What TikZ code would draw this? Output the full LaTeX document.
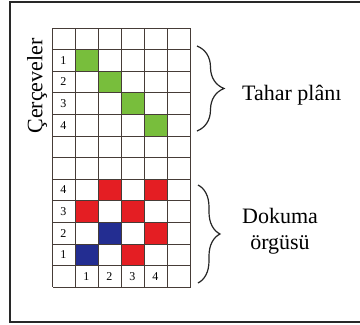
\documentclass[tikz,border=0pt]{standalone}
\usepackage{fontspec}
\setmainfont{Liberation Serif}
\usetikzlibrary{decorations.pathreplacing}
\definecolor{gridc}{RGB}{70,60,55}
\definecolor{greenc}{RGB}{120,190,60}
\definecolor{redc}{RGB}{228,30,35}
\definecolor{bluec}{RGB}{35,45,145}
\definecolor{framec}{RGB}{40,40,40}
\begin{document}
\begin{tikzpicture}[x=1pt,y=-1pt,
  cellg/.style={fill=greenc},
  cellr/.style={fill=redc},
  cellb/.style={fill=bluec},
  num/.style={font=\fontsize{12}{13}\selectfont, inner sep=0pt},
  lbl/.style={font=\fontsize{22}{26}\selectfont, inner sep=0pt},
  bracestyle/.style={draw=black!85, line width=1.2pt, decorate}]
\useasboundingbox (0,0) rectangle (360,325);
\fill[white] (0,0) rectangle (360,325);
% frame
\draw[framec, line width=1.5pt] (361,2) -- (10,2) -- (10,322) -- (361,322);
% grid geometry: x0=53, w=23; y0=28, h=21.6
\def\gx{53}\def\gw{23}\def\gy{28}\def\gh{21.6}
% coloured cells (col, row)
\foreach \c/\r/\s in {1/1/cellg,2/2/cellg,3/3/cellg,4/4/cellg,
  2/7/cellr,4/7/cellr,1/8/cellr,3/8/cellr,2/9/cellb,4/9/cellr,1/10/cellb,3/10/cellr}{
  \path[\s] ({\gx+\c*\gw},{\gy+\r*\gh}) rectangle ({\gx+(\c+1)*\gw},{\gy+(\r+1)*\gh});
}
% grid lines
\foreach \i in {0,...,6}{
  \draw[gridc, line width=1pt] ({\gx+\i*\gw},\gy) -- ({\gx+\i*\gw},{\gy+12*\gh});
}
\foreach \j in {0,...,12}{
  \draw[gridc, line width=1pt] (\gx,{\gy+\j*\gh}) -- ({\gx+6*\gw},{\gy+\j*\gh});
}
% row numbers
\node[num] (t1) at ({\gx+0.45*\gw},{\gy+1.5*\gh}) {1};
\node[num] (t2) at ({\gx+0.45*\gw},{\gy+2.5*\gh}) {2};
\node[num] (t3) at ({\gx+0.45*\gw},{\gy+3.5*\gh}) {3};
\node[num] (t4) at ({\gx+0.45*\gw},{\gy+4.5*\gh}) {4};
\node[num] (d4) at ({\gx+0.45*\gw},{\gy+7.5*\gh}) {4};
\node[num] (d3) at ({\gx+0.45*\gw},{\gy+8.5*\gh}) {3};
\node[num] (d2) at ({\gx+0.45*\gw},{\gy+9.5*\gh}) {2};
\node[num] (d1) at ({\gx+0.45*\gw},{\gy+10.5*\gh}) {1};
% column numbers
\node[num] (c1) at ({\gx+1.45*\gw},{\gy+11.5*\gh}) {1};
\node[num] (c2) at ({\gx+2.45*\gw},{\gy+11.5*\gh}) {2};
\node[num] (c3) at ({\gx+3.45*\gw},{\gy+11.5*\gh}) {3};
\node[num] (c4) at ({\gx+4.45*\gw},{\gy+11.5*\gh}) {4};
% side label
\node[lbl, rotate=90] (cer) at (37,86) {Çerçeveler};
% braces
\coordinate (b1a) at (197,46);
\coordinate (b1b) at (197,131);
\coordinate (b2a) at (198,185);
\coordinate (b2b) at (198,283);
\draw[bracestyle, decoration={brace, amplitude=27pt}] (b1a) -- (b1b);
\draw[bracestyle, decoration={brace, amplitude=22pt}] (b2a) -- (b2b);
\node[lbl, anchor=west] (tahar) at (242,95) {Tahar plânı};
\node[lbl, align=center, font=\fontsize{22}{26}\selectfont] (dok) at (280,231) {Dokuma\\örgüsü};
\end{tikzpicture}
\end{document}
